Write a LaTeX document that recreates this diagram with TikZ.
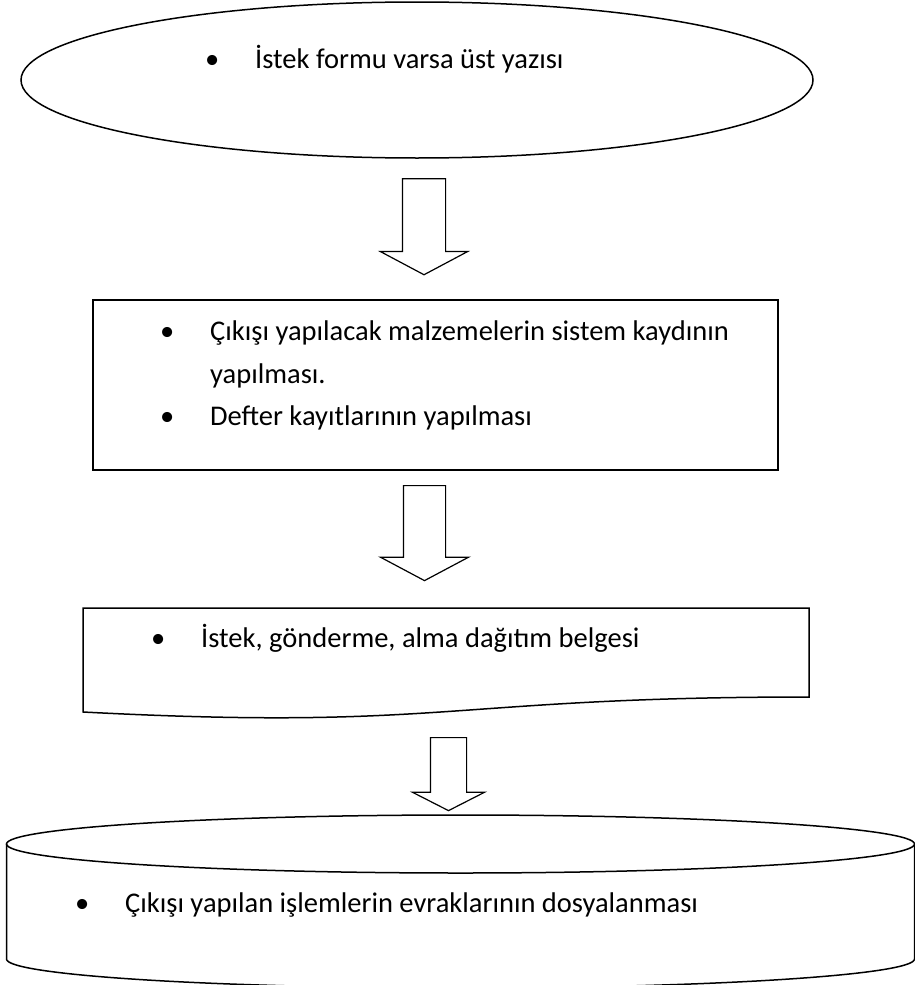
\documentclass[tikz,border=0pt]{standalone}
\usepackage{fontspec}
\setmainfont{Carlito}
\usetikzlibrary{shapes.geometric,shapes.arrows}

\tikzstyle{outline} = [draw, line width=1.5pt, outer sep=0pt, inner sep=0pt]
\tikzstyle{blockarrow} = [single arrow, draw, line width=1.2pt, rotate=-90, inner xsep=0pt]
\tikzstyle{item} = [anchor=base west, inner sep=0pt, font=\fontsize{28.5}{34}\selectfont]

\newcommand{\blt}{\makebox[0pt]{•}\hspace{43pt}}

\begin{document}
\begin{tikzpicture}[x=1pt,y=-1pt]
		\useasboundingbox (0,0) rectangle (915,985);
		
		%request form
		\node[outline, ellipse, minimum width=792pt, minimum height=156pt] (req) at (417,80) {};
		\node[item] (reqtxt) at (212,68) {\blt İstek formu varsa üst yazısı};
		%arrow 1
		\node[blockarrow, minimum height=96pt, inner ysep=21pt, single arrow head extend=22pt, single arrow tip angle=124] (arr1) at (424,221) {};
		%system record
		\node[outline, rectangle, minimum width=685pt, minimum height=170pt] (rec) at (435.5,385) {};
		\node[item] (rectxt1) at (167,340) {\blt Çıkışı yapılacak malzemelerin sistem kaydının};
		\node[item] (rectxt2) at (210,383) {yapılması.};
		\node[item] (rectxt3) at (167,425) {\blt Defter kayıtlarının yapılması};
		%arrow 2
		\node[blockarrow, minimum height=95pt, inner ysep=20.5pt, single arrow head extend=23pt, single arrow tip angle=124] (arr2) at (424.5,527.5) {};
		%document
		\draw[outline] (83,608) -- (809,608) -- (809,697) .. controls (446,697) and (446,731) .. (83,712) -- cycle;
		\node[item] (doctxt) at (158,647) {\blt İstek, gönderme, alma dağıtım belgesi};
		%arrow 3
		\node[blockarrow, minimum height=73pt, inner ysep=17.5pt, single arrow head extend=18pt, single arrow tip angle=126] (arr3) at (448.5,769.5) {};
		%filing
		\node[outline, ellipse, minimum width=908pt, minimum height=58pt] (cyltop) at (460.5,844) {};
		\draw[outline] (cyltop.west) -- ++(0,115) arc[start angle=180, end angle=360, x radius=454pt, y radius=29pt] -- (cyltop.east);
		\node[item] (cyltxt) at (82,912) {\blt Çıkışı yapılan işlemlerin evraklarının dosyalanması};
		\end{tikzpicture}
\end{document}
